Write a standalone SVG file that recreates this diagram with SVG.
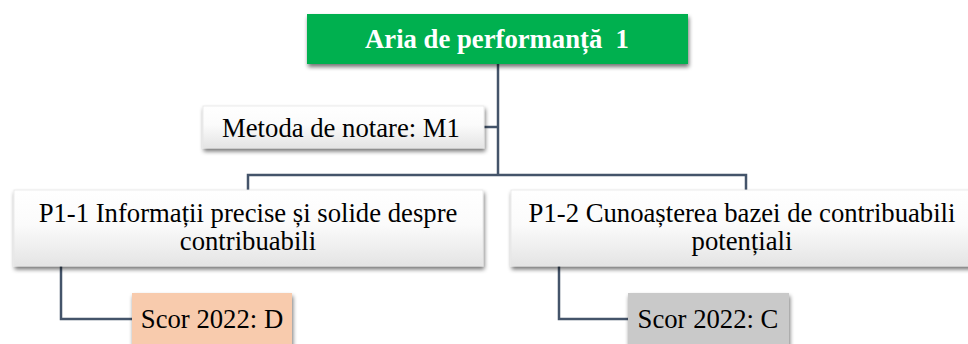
<svg xmlns="http://www.w3.org/2000/svg" width="968" height="344" viewBox="0 0 968 344">
<defs>
<linearGradient id="wg" x1="0" y1="0" x2="0" y2="1">
<stop offset="0" stop-color="#ffffff"/>
<stop offset="0.45" stop-color="#fbfbfb"/>
<stop offset="1" stop-color="#e4e4e4"/>
</linearGradient>
<filter id="sh" x="-10%" y="-20%" width="120%" height="160%">
<feGaussianBlur in="SourceAlpha" stdDeviation="2"/>
<feOffset dx="1" dy="3"/>
<feComponentTransfer><feFuncA type="linear" slope="0.55"/></feComponentTransfer>
<feMerge><feMergeNode/><feMergeNode in="SourceGraphic"/></feMerge>
</filter>
</defs>
<style>
.conn{fill:none;stroke:#44546A;stroke-width:2.5}
.wbox{fill:url(#wg);stroke:#e6e6e6;stroke-width:0.8;filter:url(#sh)}
.t{font-size:26.7px;fill:#000}
.title{font-size:26.7px;font-weight:bold;fill:#fff}
</style>
<rect width="968" height="344" fill="#fff"/>
<g id="connectors">
<path class="conn" d="M498 64 V175"/>
<path class="conn" d="M484 127 H498"/>
<path class="conn" d="M248 191 V175 H746 V191"/>
<path class="conn" d="M61 266 V319 H132"/>
<path class="conn" d="M559 266 V319 H628"/>
</g>
<g id="n-aria">
<rect x="307" y="14" width="381" height="50" fill="#00B050" filter="url(#sh)"/>
<text class="title" font-family="Liberation Serif, serif" x="497" y="48" text-anchor="middle">Aria de performanță&#160; 1</text>
</g>
<g id="n-metoda">
<rect class="wbox" x="203" y="106" width="281" height="42"/>
<text class="t" font-family="Liberation Serif, serif" x="341" y="137" text-anchor="middle">Metoda de notare: M1</text>
</g>
<g id="n-p11">
<rect class="wbox" x="14" y="190" width="469" height="76"/>
<text class="t" font-family="Liberation Serif, serif" x="248" y="222" text-anchor="middle">P1-1 Informații precise și solide despre</text>
<text class="t" font-family="Liberation Serif, serif" x="248" y="250" text-anchor="middle">contribuabili</text>
</g>
<g id="n-p12">
<rect class="wbox" x="511" y="190" width="462" height="76"/>
<text class="t" font-family="Liberation Serif, serif" x="742" y="222" text-anchor="middle">P1-2 Cunoașterea bazei de contribuabili</text>
<text class="t" font-family="Liberation Serif, serif" x="742" y="250" text-anchor="middle">potențiali</text>
</g>
<g id="n-scor-d">
<rect x="132" y="293" width="160" height="60" fill="#F8CBAD" filter="url(#sh)"/>
<text class="t" font-family="Liberation Serif, serif" x="212" y="328" text-anchor="middle">Scor 2022: D</text>
</g>
<g id="n-scor-c">
<rect x="628" y="293" width="161" height="60" fill="#C9C9C9" filter="url(#sh)"/>
<text class="t" font-family="Liberation Serif, serif" x="708" y="328" text-anchor="middle">Scor 2022: C</text>
</g>
</svg>
